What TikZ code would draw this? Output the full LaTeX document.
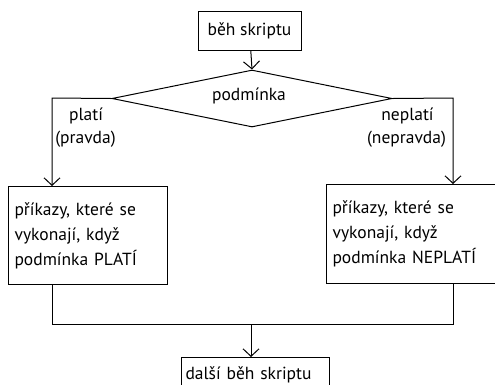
\documentclass[tikz,border=0pt]{standalone}
\usepackage{fontspec}
\setmainfont{PT Sans}
\usepackage{tikz}
\usetikzlibrary{arrows.meta, positioning, shapes.geometric}

\begin{document}
\begin{tikzpicture}[
  x=1pt, y=-1pt,
  font=\fontsize{17.5}{25}\selectfont,
  block/.style={rectangle, draw, line width=1pt, inner sep=4pt},
  textbox/.style={block, align=left, anchor=north west, inner xsep=6pt},
  decision/.style={diamond, draw, line width=1pt, inner sep=0pt,
    aspect=4.9, minimum width=280pt, minimum height=57pt},
  flow/.style={-{Straight Barb[length=7.5pt, width=16pt]}, line width=1pt},
  line/.style={line width=1pt}
]
\useasboundingbox (0,0) rectangle (495,384);
\clip (0,0) rectangle (495,384);

\node[block, minimum width=103pt, minimum height=39pt] (start) at (249.5,30.5) {běh skriptu};
\node[decision] (cond) at (252,98.5) {};
\node (condlbl) at (249,96) {podmínka};

\node[textbox, text width=147pt, minimum height=98pt] (yes) at (8,186)
  {příkazy, které se\\vykonají, když\\podmínka PLATÍ\par\vspace{10pt}};
\node[textbox, text width=190pt, minimum height=99pt] (no) at (326,184)
  {příkazy, které se\\vykonají, když\\podmínka NEPLATÍ\par\vspace{16pt}};
\node[block, anchor=north west, text width=140pt, minimum height=34pt, align=left] (next) at (181,357)
  {další běh skriptu};

\node (yeslbl) at (86,116) {platí};
\node (yesnote) at (85.5,139) {(pravda)};
\node (nolbl) at (407.5,116) {neplatí};
\node (nonote) at (406.5,139) {(nepravda)};

\coordinate (lturn) at (52,98);
\coordinate (rturn) at (453,98);
\coordinate (lmerge) at (52,324);
\coordinate (rmerge) at (453,324);
\coordinate (join) at (251,324);

\draw[flow] (start) -- (cond.north);
\draw[flow] (cond.west) -- (lturn) -- (yes.north -| lturn);
\draw[flow] (cond.east) -- (rturn) -- (no.north -| rturn);
\draw[line] (yes.south -| lmerge) -- (lmerge) -- (rmerge) -- (no.south -| rmerge);
\draw[flow] (join) -- (next.north -| join);
\end{tikzpicture}
\end{document}
